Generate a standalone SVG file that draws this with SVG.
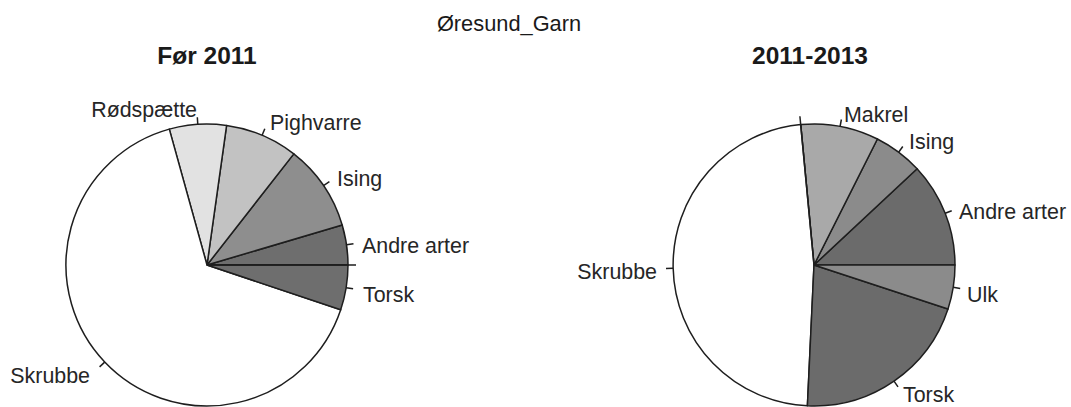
<svg xmlns="http://www.w3.org/2000/svg" width="1071" height="407" viewBox="0 0 1071 407">
<style>
.bg{fill:#ffffff}
.s{stroke:#1e1e1e;stroke-width:1.5;stroke-linejoin:round}
.t{stroke:#1e1e1e;stroke-width:1.5;fill:none}
.lbl{font-family:"Liberation Sans",Arial,sans-serif;font-size:21.4px;fill:#262626}
.ttl{font-family:"Liberation Sans",Arial,sans-serif;font-size:24.5px;font-weight:bold;fill:#1a1a1a;text-anchor:middle}
.main{font-family:"Liberation Sans",Arial,sans-serif;font-size:21.8px;fill:#1a1a1a;text-anchor:middle}
.end{text-anchor:end}
</style>
<rect class="bg" x="0" y="0" width="1071" height="407"/>
<text class="main" x="509" y="31">Øresund_Garn</text>

<g id="pie-left">
<text class="ttl" x="207" y="64">Før 2011</text>
<g id="l-andre"><path class="s" fill="#6e6e6e" d="M207,265 L348,265 A141,141 0 0 0 342.2,225 Z"/><text class="lbl" x="362" y="253">Andre arter</text></g>
<g id="l-ising"><path class="s" fill="#8e8e8e" d="M207,265 L342.2,225 A141,141 0 0 0 293.8,153.9 Z"/><text class="lbl" x="337" y="186">Ising</text></g>
<g id="l-pighvarre"><path class="s" fill="#c2c2c2" d="M207,265 L293.8,153.9 A141,141 0 0 0 226.6,125.4 Z"/><text class="lbl" x="270" y="130">Pighvarre</text></g>
<g id="l-rodspaette"><path class="s" fill="#e2e2e2" d="M207,265 L226.6,125.4 A141,141 0 0 0 169.3,129.1 Z"/><text class="lbl end" x="197" y="117">Rødspætte</text></g>
<g id="l-skrubbe"><path class="s" fill="#ffffff" d="M207,265 L169.3,129.1 A141,141 0 1 0 340.7,309.7 Z"/><text class="lbl end" x="90" y="383">Skrubbe</text></g>
<g id="l-torsk"><path class="s" fill="#6e6e6e" d="M207,265 L340.7,309.7 A141,141 0 0 0 348,265 Z"/><text class="lbl" x="363" y="302">Torsk</text></g>
</g>

<g id="pie-right">
<text class="ttl" x="810" y="64">2011-2013</text>
<g id="r-andre"><path class="s" fill="#6b6b6b" d="M814,265 L955,265 A141,141 0 0 0 917.1,168.8 Z"/><text class="lbl" x="959" y="219">Andre arter</text></g>
<g id="r-ising"><path class="s" fill="#8b8b8b" d="M814,265 L917.1,168.8 A141,141 0 0 0 877.4,139 Z"/><text class="lbl" x="909" y="149">Ising</text></g>
<g id="r-makrel"><path class="s" fill="#a9a9a9" d="M814,265 L877.4,139 A141,141 0 0 0 800.7,124.6 Z"/><text class="lbl" x="844" y="121.5">Makrel</text></g>
<g id="r-skrubbe"><path class="s" fill="#ffffff" d="M814,265 L800.7,124.6 A141,141 0 0 0 807.4,405.8 Z"/><text class="lbl end" x="657" y="279">Skrubbe</text></g>
<g id="r-torsk"><path class="s" fill="#6b6b6b" d="M814,265 L807.4,405.8 A141,141 0 0 0 948,309 Z"/><text class="lbl" x="903" y="402">Torsk</text></g>
<g id="r-ulk"><path class="s" fill="#8b8b8b" d="M814,265 L948,309 A141,141 0 0 0 955,265 Z"/><text class="lbl" x="967" y="302">Ulk</text></g>
</g>

<g id="connectors">
<line class="t" x1="207" y1="265" x2="356" y2="265"/>
<line class="t" x1="346.5" y1="244.8" x2="353.5" y2="243.8"/>
<line class="t" x1="323.5" y1="185.6" x2="329.4" y2="181.7"/>
<line class="t" x1="262.1" y1="135.2" x2="264.8" y2="128.7"/>
<line class="t" x1="197.8" y1="124.3" x2="197.3" y2="117.3"/>
<line class="t" x1="104.7" y1="362.1" x2="99.6" y2="366.9"/>
<line class="t" x1="346.2" y1="287.7" x2="353.1" y2="288.8"/>
<line class="t" x1="814" y1="265" x2="799.9" y2="116.2"/>
<line class="t" x1="945.2" y1="213.3" x2="951.7" y2="210.7"/>
<line class="t" x1="898.6" y1="152.2" x2="902.8" y2="146.5"/>
<line class="t" x1="840.1" y1="126.4" x2="841.4" y2="119.5"/>
<line class="t" x1="673" y1="268.3" x2="666" y2="268.5"/>
<line class="t" x1="894" y1="381.1" x2="898" y2="386.9"/>
<line class="t" x1="953.2" y1="287.3" x2="960.2" y2="288.4"/>
</g>
</svg>
